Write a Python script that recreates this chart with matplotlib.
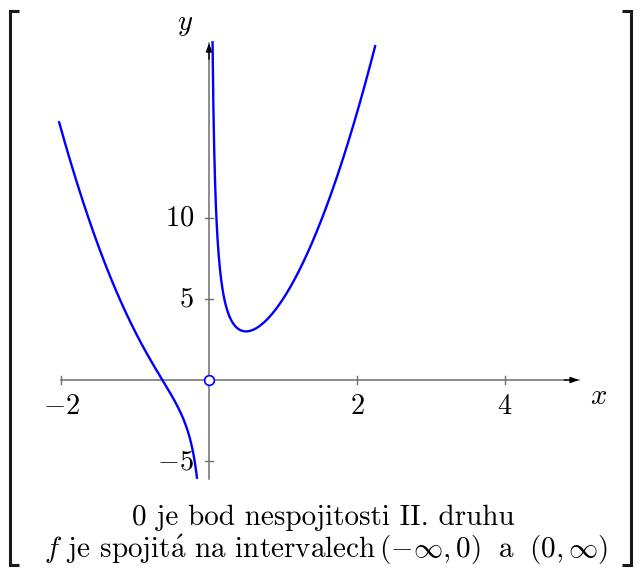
import numpy as np
import matplotlib
matplotlib.use("Agg")
import matplotlib.pyplot as plt

plt.rcParams['mathtext.fontset'] = 'cm'

# f(x) = A*x^2 + B/x, drawn on two branches separated by the pole at 0
A = 4.0
B = 1.0
left_domain = [-2.025, -0.163]
right_domain = [0.048, 2.245]
x_ticks = [-2, 2, 4]
x_tick_labels = [r'$-2$', r'$2$', r'$4$']
y_ticks = [-5, 5, 10]
y_tick_labels = [r'$-5$', r'$5$', r'$10$']
x_axis_range = [-2.0, 5.0]
y_axis_range = [-6.1, 20.8]
caption_1 = '0 je bod nespojitosti II. druhu'
caption_2 = (r'$f$ je spojit$\mathrm{\acute{a}}$ na intervalech'
             r'$\,(-\infty,0)\;$ a $\;(0,\infty)$')

W, H = 641, 569
fig = plt.figure(figsize=(W / 100, H / 100), dpi=100)
ax = fig.add_axes([0, 0, 1, 1])
# data -> pixel: x_px = 209 + 74 x, y_px = 380 - 16.2 y
SY = 16.2
ax.set_xlim(-209 / 74, (W - 209) / 74)
ax.set_ylim((380 - H) / SY, 380 / SY)
ax.axis('off')

axis_col = '#6e6e6e'
arrow = dict(arrowstyle='-|>,head_length=0.5,head_width=0.18', color='black',
             lw=1.0, shrinkA=0, shrinkB=0)
ax.plot(x_axis_range, [0, 0], color=axis_col, lw=1.1, zorder=1)
ax.annotate('', xy=(x_axis_range[1], 0), xytext=(x_axis_range[1] - 0.2, 0),
            arrowprops=arrow)
ax.plot([0, 0], y_axis_range, color=axis_col, lw=1.1, zorder=1)
ax.annotate('', xy=(0, y_axis_range[1]), xytext=(0, y_axis_range[1] - 1),
            arrowprops=arrow)

fs = 20.5
for t, lab in zip(x_ticks, x_tick_labels):
    ax.plot([t, t], [-0.25, 0.25], color=axis_col, lw=1.0)
    ax.text(t, -0.75, lab, ha='center', va='top', fontsize=fs)
for t, lab in zip(y_ticks, y_tick_labels):
    ax.plot([-0.06, 0.06], [t, t], color=axis_col, lw=1.0)
    ax.text(-0.2, t, lab, ha='right', va='center', fontsize=fs)

ax.text(5.15, -1.0, r'$x$', ha='left', va='center', fontsize=fs)
ax.text(-0.22, 22.0, r'$y$', ha='right', va='center', fontsize=fs)

xl = np.linspace(left_domain[0], left_domain[1], 400)
xr = np.linspace(right_domain[0], right_domain[1], 400)
ax.plot(xl, A * xl**2 + B / xl, color='#0000ff', lw=1.7, zorder=3)
ax.plot(xr, A * xr**2 + B / xr, color='#0000ff', lw=1.7, zorder=3)
ax.plot([0], [0], 'o', ms=7, mfc='white', mec='#0000ff', mew=1.2, zorder=4)

def px(xp, yp):
    return (xp - 209) / 74, (380 - yp) / SY

cap_font = ['cmr10', 'DejaVu Serif']
ax.text(*px(323.5, 518), caption_1, ha='center', va='center', fontsize=21,
        family=cap_font)
ax.text(*px(326.5, 550), caption_2, ha='center', va='center', fontsize=21,
        family=cap_font)

# bracket delimiters framing the whole figure
for xs, sgn in ((10, 1), (631, -1)):
    pts = [px(xs + sgn * 9, 11), px(xs, 11), px(xs, 565), px(xs + sgn * 9, 565)]
    ax.plot([p[0] for p in pts], [p[1] for p in pts], color='#1a1a1a', lw=2.2,
            solid_joinstyle='miter', solid_capstyle='butt')

fig.savefig('out.png', dpi=100)
